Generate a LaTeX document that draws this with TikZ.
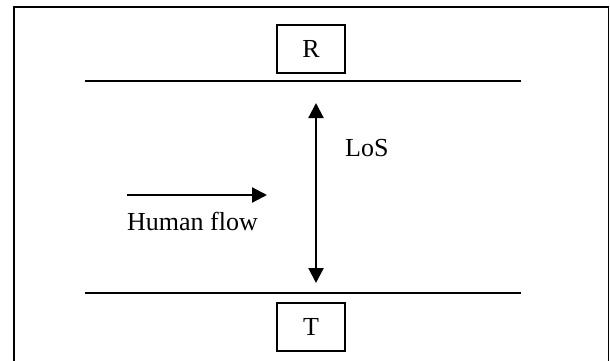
\documentclass[tikz,border=0pt]{standalone}
\usepackage{fontspec}
\setmainfont{Liberation Serif}
\usetikzlibrary{arrows.meta}
\begin{document}
\begin{tikzpicture}[x=1pt,y=-1pt,
  font=\fontsize{26}{30}\selectfont,
  station/.style={draw,line width=1.4pt,minimum width=68pt,minimum height=48pt,inner sep=0pt},
  wall/.style={line width=1.4pt},
  flow/.style={line width=2.2pt,-{Triangle[width=15pt,length=15pt]}},
  los/.style={line width=2.2pt,{Triangle[width=15pt,length=15pt]}-{Triangle[width=15pt,length=15pt]}}]
\useasboundingbox (0,0) rectangle (610,360);
% outer frame (open at the lower edge of the page)
\draw[line width=1.6pt] (14,362) -- (14,7) -- (608.5,7) -- (608.5,362);
% receiver and transmitter
\node[station] (R) at (311,49) {R};
\node[station] (T) at (311,327) {T};
% corridor walls
\coordinate (wtl) at (85,81);
\coordinate (wtr) at (521,81);
\coordinate (wbl) at (85,293);
\coordinate (wbr) at (521,293);
\draw[wall] (wtl) -- (wtr);
\draw[wall] (wbl) -- (wbr);
% line of sight
\coordinate (lt) at (316,103);
\coordinate (lb) at (316,283);
\draw[los] (lt) -- (lb);
\node[anchor=base west,inner sep=0pt] (loslbl) at (345,156) {LoS};
% human flow
\coordinate (fs) at (127,195);
\coordinate (fe) at (267,195);
\draw[flow] (fs) -- (fe);
\node[anchor=base west,inner sep=0pt] (flowlbl) at (127,230) {Human flow};
\end{tikzpicture}
\end{document}
